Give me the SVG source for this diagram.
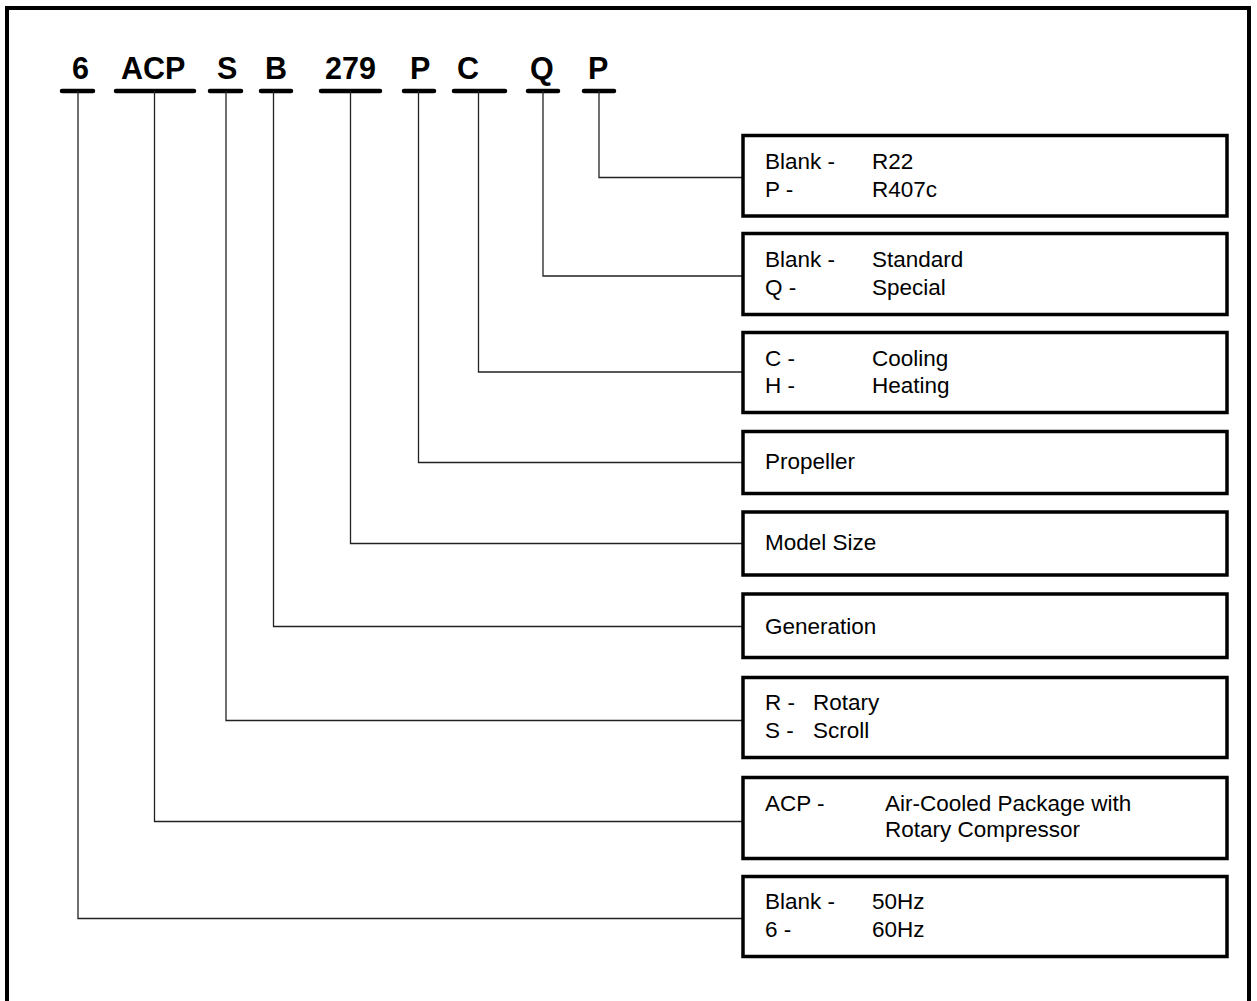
<svg xmlns="http://www.w3.org/2000/svg" width="1257" height="1001" viewBox="0 0 1257 1001">
<style>
.code{font-family:"Liberation Sans",Arial,sans-serif;font-weight:bold;font-size:30.5px;fill:#000}
.t{font-family:"Liberation Sans",Arial,sans-serif;font-size:22.5px;fill:#000}
.box{fill:#fff;stroke:#000;stroke-width:3.5}
.ul{stroke:#000;stroke-width:4.5;stroke-linecap:round}
.c{fill:none;stroke:#222;stroke-width:1.3}
</style>
<rect width="1257" height="1001" fill="#fff"/>
<path d="M7,1010 V8 H1249 V1010" fill="none" stroke="#000" stroke-width="4"/>
<g id="code">
<text class="code" x="72" y="79">6</text>
<text class="code" x="121" y="79">ACP</text>
<text class="code" x="217" y="79">S</text>
<text class="code" x="265" y="79">B</text>
<text class="code" x="325" y="79">279</text>
<text class="code" x="410" y="79">P</text>
<text class="code" x="457" y="79">C</text>
<text class="code" x="530" y="79">Q</text>
<text class="code" x="588" y="79">P</text>
<line class="ul" x1="62" y1="91" x2="93" y2="91"/>
<line class="ul" x1="116" y1="91" x2="194" y2="91"/>
<line class="ul" x1="210" y1="91" x2="241" y2="91"/>
<line class="ul" x1="261" y1="91" x2="291" y2="91"/>
<line class="ul" x1="321" y1="91" x2="380" y2="91"/>
<line class="ul" x1="404" y1="91" x2="434" y2="91"/>
<line class="ul" x1="454" y1="91" x2="505" y2="91"/>
<line class="ul" x1="528" y1="91" x2="558" y2="91"/>
<line class="ul" x1="584" y1="91" x2="614" y2="91"/>
</g>
<g id="connectors">
<path class="c" d="M599,91 V177.5 H743"/>
<path class="c" d="M543,91 V276 H743"/>
<path class="c" d="M478.5,91 V372 H743"/>
<path class="c" d="M418.5,91 V462.5 H743"/>
<path class="c" d="M350.5,91 V543.5 H743"/>
<path class="c" d="M273.5,91 V626.5 H743"/>
<path class="c" d="M226,91 V720.5 H743"/>
<path class="c" d="M154.5,91 V821.5 H743"/>
<path class="c" d="M78,91 V918.5 H743"/>
</g>
<g id="box-p">
<rect class="box" x="743" y="135.5" width="484" height="80.5"/>
<text class="t" x="765" y="168.5">Blank -</text><text class="t" x="872" y="168.5">R22</text>
<text class="t" x="765" y="196.5">P -</text><text class="t" x="872" y="196.5">R407c</text>
</g>
<g id="box-q">
<rect class="box" x="743" y="233.5" width="484" height="81"/>
<text class="t" x="765" y="267">Blank -</text><text class="t" x="872" y="267">Standard</text>
<text class="t" x="765" y="294.5">Q -</text><text class="t" x="872" y="294.5">Special</text>
</g>
<g id="box-c">
<rect class="box" x="743" y="332.5" width="484" height="80"/>
<text class="t" x="765" y="365.5">C -</text><text class="t" x="872" y="365.5">Cooling</text>
<text class="t" x="765" y="392.5">H -</text><text class="t" x="872" y="392.5">Heating</text>
</g>
<g id="box-propeller">
<rect class="box" x="743" y="431.5" width="484" height="62"/>
<text class="t" x="765" y="468.5">Propeller</text>
</g>
<g id="box-model">
<rect class="box" x="743" y="512" width="484" height="63"/>
<text class="t" x="765" y="550">Model Size</text>
</g>
<g id="box-generation">
<rect class="box" x="743" y="594" width="484" height="63.5"/>
<text class="t" x="765" y="633.5">Generation</text>
</g>
<g id="box-compressor">
<rect class="box" x="743" y="677.5" width="484" height="80"/>
<text class="t" x="765" y="710">R -</text><text class="t" x="813" y="710">Rotary</text>
<text class="t" x="765" y="737.5">S -</text><text class="t" x="813" y="737.5">Scroll</text>
</g>
<g id="box-acp">
<rect class="box" x="743" y="777.5" width="484" height="81"/>
<text class="t" x="765" y="810.5">ACP -</text><text class="t" x="885" y="810.5">Air-Cooled Package with</text>
<text class="t" x="885" y="836.5">Rotary Compressor</text>
</g>
<g id="box-hz">
<rect class="box" x="743" y="876.5" width="484" height="80"/>
<text class="t" x="765" y="908.5">Blank -</text><text class="t" x="872" y="908.5">50Hz</text>
<text class="t" x="765" y="936.5">6 -</text><text class="t" x="872" y="936.5">60Hz</text>
</g>
</svg>
